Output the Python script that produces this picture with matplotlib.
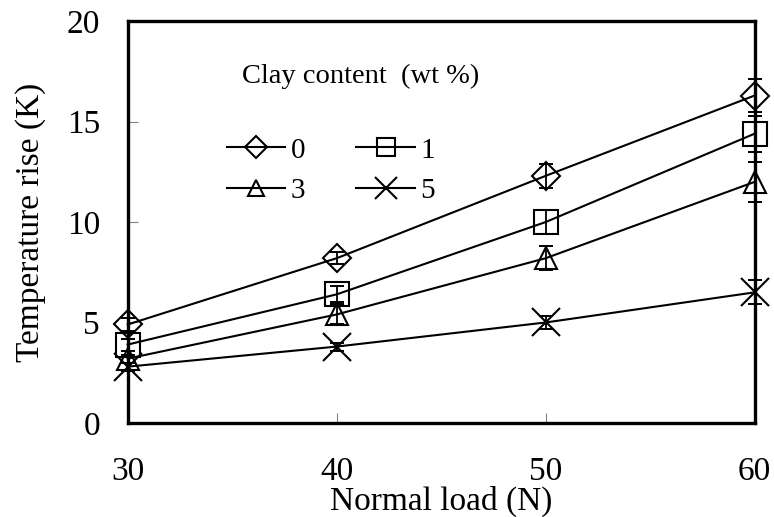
import numpy as np
import matplotlib.pyplot as plt
from matplotlib.lines import Line2D

plt.rcParams['font.family'] = ['Liberation Serif', 'DejaVu Serif']

# Normal load (N)
load = [30, 40, 50, 60]

# Temperature rise (K) for each clay content (wt %)
clay = ['0', '1', '3', '5']
temp_0 = [4.9, 8.2, 12.3, 16.3]
temp_1 = [3.9, 6.4, 10.0, 14.4]
temp_3 = [3.2, 5.4, 8.2, 12.0]
temp_5 = [2.8, 3.8, 5.0, 6.5]
err_0 = [0.3, 0.3, 0.6, 0.8]
err_1 = [0.3, 0.4, 0.6, 0.9]
err_3 = [0.2, 0.5, 0.6, 1.0]
err_5 = [0.2, 0.2, 0.3, 0.6]

series = [temp_0, temp_1, temp_3, temp_5]
errors = [err_0, err_1, err_3, err_5]
markers = ['D', 's', '^', 'x']
msizes = [14, 17, 16, 20]
leg_sizes = [11, 13, 12, 16]

fig = plt.figure(figsize=(7.74, 5.17), dpi=100)
ax = fig.add_axes([0.165, 0.182, 0.81, 0.777])

for y, e, m, ms in zip(series, errors, markers, msizes):
    ax.errorbar(load, y, yerr=e, fmt='none', ecolor='black', elinewidth=1.3,
                capsize=5, capthick=1.4, clip_on=False, zorder=3)
    ax.plot(load, y, color='black', lw=1.5, marker=m, ms=ms,
            mfc='none', mec='black', mew=1.5, clip_on=False, zorder=4)

ax.set_xlim(30, 60)
ax.set_ylim(0, 20)
ax.set_xticks([30, 40, 50, 60])
ax.set_yticks([0, 5, 10, 15, 20])
ax.tick_params(direction='in', length=7, width=0.8, color='gray', labelsize=24)
ax.tick_params(axis='x', pad=24)
ax.tick_params(axis='y', pad=20)
for s in ax.spines.values():
    s.set_linewidth(2.4)

ax.set_xlabel('Normal load (N)', fontsize=24, labelpad=-1)
ax.set_ylabel('Temperature rise (K)', fontsize=24, labelpad=15)

# legend: proxies with smaller markers, columns 0/3 and 1/5
proxies = [Line2D([], [], color='black', lw=1.5, marker=m, ms=s, mfc='none',
                  mec='black', mew=1.5) for m, s in zip(markers, leg_sizes)]
order = [0, 2, 1, 3]
ax.legend([proxies[i] for i in order], [clay[i] for i in order], ncol=2,
          frameon=False, fontsize=21, loc='upper left',
          bbox_to_anchor=(0.158, 0.711), handlelength=2.0, borderpad=0,
          borderaxespad=0, columnspacing=1.75, handletextpad=0.2,
          labelspacing=0.47)
ax.text(0.183, 0.862, 'Clay content  (wt %)', transform=ax.transAxes,
        fontsize=20.5, ha='left', va='center')

fig.savefig('out.png', dpi=100)
